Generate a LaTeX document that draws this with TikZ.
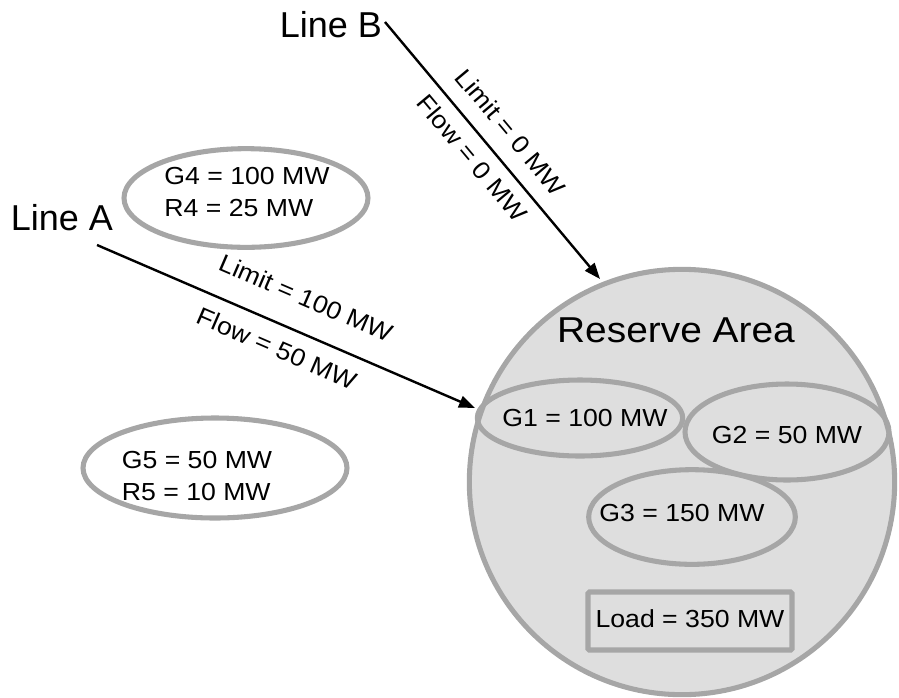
\documentclass[tikz,border=0pt]{standalone}
\usepackage{fontspec}
\setmainfont{Liberation Sans}
\newfontfamily\widesans[FakeStretch=1.08]{Liberation Sans}
\usetikzlibrary{shapes.geometric,arrows.meta}

\definecolor{rimgray}{HTML}{A6A6A6}
\definecolor{areafill}{HTML}{DEDEDE}

\tikzset{
  bigtext/.style={font=\fontsize{27}{32}\selectfont, inner sep=0pt},
  smalltext/.style={font=\widesans\fontsize{18.5}{24}\selectfont, inner sep=0pt, align=left},
  zone/.style={ellipse, draw=rimgray, line width=3.8pt, inner sep=0pt},
  tie/.style={line width=1.8pt, -{Triangle[length=12pt,width=9pt]}},
  linelabel/.style={font=\widesans\fontsize{18.5}{24}\selectfont, inner sep=0pt, sloped}
}

\begin{document}
\begin{tikzpicture}[x=0.75pt,y=-0.75pt]
\useasboundingbox (0,0) rectangle (899,697);

% reserve area
\node[circle, draw=rimgray, fill=areafill, line width=3.8pt, minimum size=319pt] (area) at (682,482) {};
\node[bigtext, font=\widesans\fontsize{27}{32}\selectfont] (areatitle) at (676,330) {Reserve Area};

% generators inside the area
\node[zone, minimum width=154pt, minimum height=57pt] (G1) at (580,418) {};
\node[smalltext] (G1t) at (585,418) {G1 = 100 MW};
\node[zone, minimum width=153pt, minimum height=72pt] (G2) at (787,432) {};
\node[smalltext] (G2t) at (787,435) {G2 = 50 MW};
\node[zone, minimum width=155pt, minimum height=71pt] (G3) at (692,517) {};
\node[smalltext] (G3t) at (682,513) {G3 = 150 MW};

% load
\node[rectangle, draw=rimgray, line width=3.8pt, rounded corners=1pt,
      minimum width=153pt, minimum height=43.5pt] (load) at (690,621) {};
\node[smalltext] (loadt) at (690,619) {Load = 350 MW};

% generators outside the area
\node[zone, fill=white, minimum width=183pt, minimum height=74pt] (G4) at (246,198) {};
\node[smalltext] (G4t) at (247,192) {G4 = 100 MW\\R4 = 25 MW};
\node[zone, fill=white, minimum width=198pt, minimum height=75pt] (G5) at (215,468) {};
\node[smalltext] (G5t) at (197,476) {G5 = 50 MW\\R5 = 10 MW};

% tie lines
\node[bigtext] (lineA) at (62,218) {Line A};
\node[bigtext] (lineB) at (331,25) {Line B};
\coordinate (aStart) at (97,245);
\coordinate (aEnd) at (475,408);
\coordinate (bStart) at (385,22);
\coordinate (bEnd) at (600,279);

\draw[tie] (aStart) -- (aEnd)
  node[linelabel, pos=0.517, above=18pt] (limA) {Limit = 100 MW}
  node[linelabel, pos=0.5, below=10pt] (flowA) {Flow = 50 MW};
\draw[tie] (bStart) -- (bEnd)
  node[linelabel, pos=0.493, above=11.5pt] (limB) {Limit = 0 MW}
  node[linelabel, pos=0.478, below=7.5pt] (flowB) {Flow = 0 MW};
\end{tikzpicture}
\end{document}
